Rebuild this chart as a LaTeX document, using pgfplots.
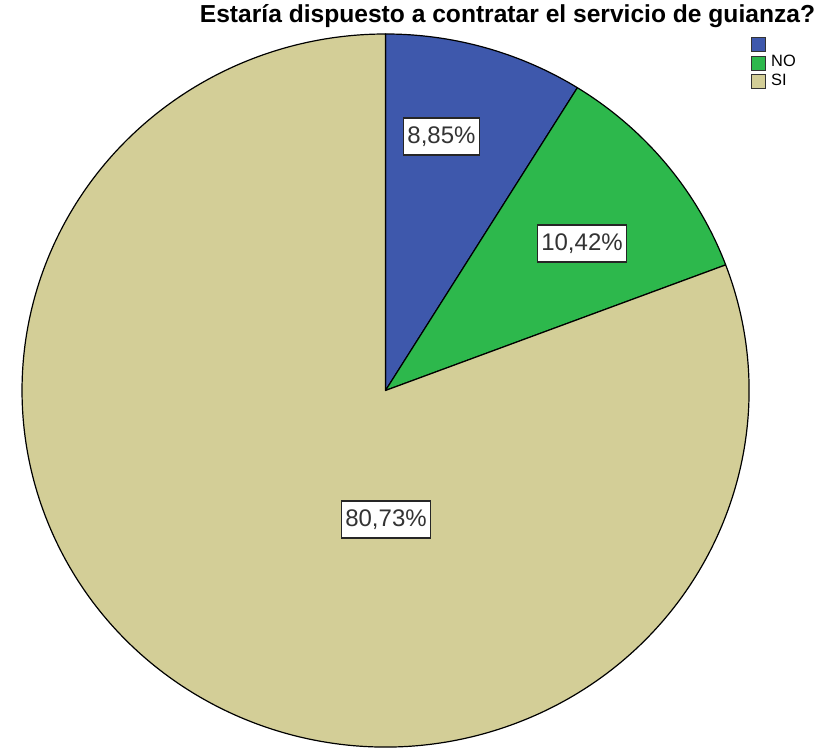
\documentclass[border=0pt]{standalone}
\usepackage{pgfplots}
\usepackage{pgfplotstable}
\pgfplotsset{compat=1.18}
\usepackage{fontspec}
\setmainfont{Liberation Sans}
\definecolor{cpie0}{HTML}{3E58AC}
\definecolor{cpie1}{HTML}{2DB84C}
\definecolor{cpie2}{HTML}{D3CE97}
\pgfplotstableread{
label value
blank 8.85
NO 10.42
SI 80.73
}\piedata
\pgfplotstablecreatecol[create col/expr accum={\pgfmathaccuma + \thisrow{value}}{0}]{cum}\piedata
\begin{document}
\begin{tikzpicture}
\foreach \i in {0,1,2}{%
  \pgfplotstablegetelem{\i}{value}\of\piedata \let\v\pgfplotsretval
  \pgfplotstablegetelem{\i}{cum}\of\piedata \let\c\pgfplotsretval
  \pgfmathsetmacro\s{90-3.6*(\c-\v)}%
  \pgfmathsetmacro\e{90-3.6*\c}%
  \expandafter\xdef\csname pieS\i\endcsname{\s}%
  \expandafter\xdef\csname pieE\i\endcsname{\e}%
}
\begin{axis}[
  x=0.5pt, y=0.5pt,
  xmin=0, xmax=825, ymin=0, ymax=749,
  hide axis, clip=false,
  legend style={at={(axis cs:751,714)}, anchor=north west, draw=none, fill=none,
    inner sep=0pt, font=\fontsize{8.2}{9}\selectfont, row sep=0pt,
    nodes={inner sep=0pt, text height=6.5pt, text depth=2.75pt},
    /tikz/every odd column/.append style={column sep=2.5pt}},
  legend cell align=left,
  legend image code/.code={\draw[#1, line width=0.4pt] (0pt,-3.5pt) rectangle (7pt,3.5pt);},
]
\addlegendimage{fill=cpie0, draw=black!80}
\addlegendentry{\mbox{}}
\addlegendimage{fill=cpie1, draw=black!80}
\addlegendentry{NO}
\addlegendimage{fill=cpie2, draw=black!80}
\addlegendentry{SI}
\pgfplotsinvokeforeach{0,1,2}{
  \filldraw[fill=cpie#1, draw=black, line width=0.6pt, line join=round]
    (axis cs:385.5,358.5) --
    (axis cs:{385.5+363.5*cos(\csname pieS#1\endcsname)},{358.5+356.5*sin(\csname pieS#1\endcsname)})
    arc[start angle=\csname pieS#1\endcsname, end angle=\csname pieE#1\endcsname, x radius=181.75pt, y radius=178.25pt]
    -- cycle;
}
\tikzset{lbl/.style={draw=black!85, line width=0.7pt, fill=white, inner xsep=2pt, inner ysep=0pt,
  minimum height=18.5pt, font=\fontsize{12}{14}\selectfont, text=black!80}}
\node[lbl] at (axis cs:441.5,612.5) {8,85\%};
\node[lbl] at (axis cs:582,505.5) {10,42\%};
\node[lbl] at (axis cs:386,229.5) {80,73\%};
\node[font=\bfseries\fontsize{12.3}{14}\selectfont] at (axis cs:507.5,733) {Estaría dispuesto a contratar el servicio de guianza?};
\coordinate (bbsw) at (axis cs:0,0);
\coordinate (bbne) at (axis cs:825,749);
\end{axis}
\pgfresetboundingbox
\useasboundingbox (bbsw) rectangle (bbne);
\end{tikzpicture}
\end{document}
